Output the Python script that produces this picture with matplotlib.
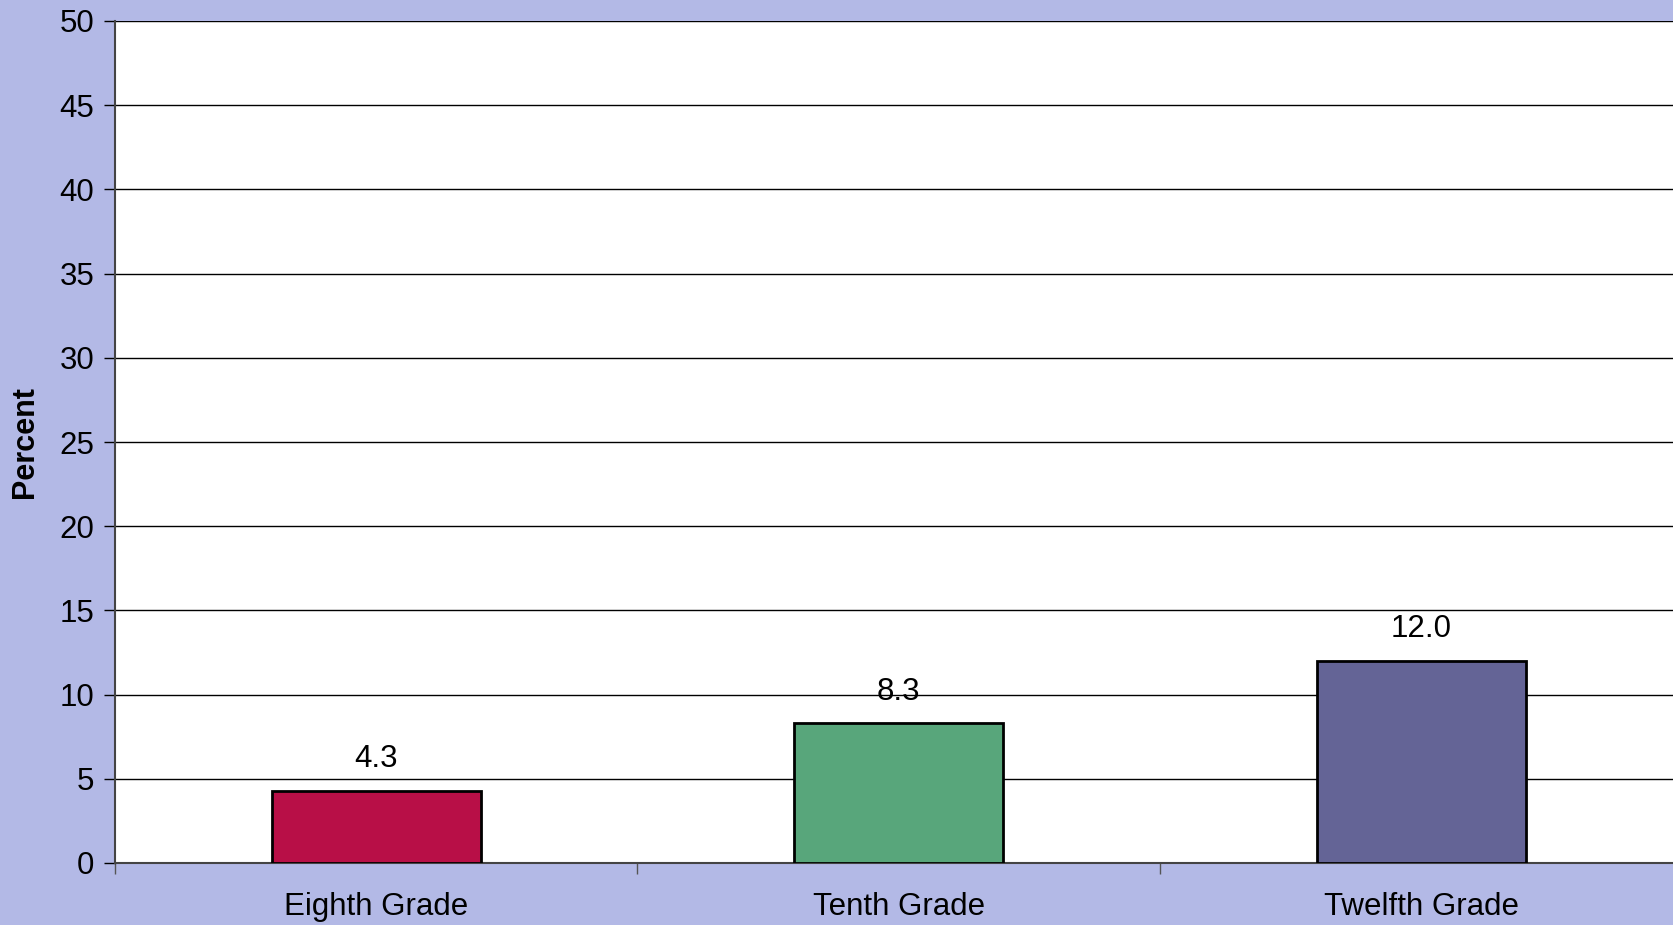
import matplotlib
matplotlib.use('Agg')
import matplotlib.pyplot as plt
import numpy as np

plt.rcParams['font.family'] = ['Liberation Sans', 'DejaVu Sans']

# chart data
grades = ['Eighth Grade', 'Tenth Grade', 'Twelfth Grade']
percent = [4.3, 8.3, 12.0]
bar_colors = ['#B80F47', '#58A67B', '#646496']
y_ticks = [0, 5, 10, 15, 20, 25, 30, 35, 40, 45, 50]

bg = '#B3B9E6'

fig = plt.figure(figsize=(16.74, 9.25), dpi=100, facecolor=bg)
# plot area runs slightly past the right edge, as in the original
ax = fig.add_axes([115 / 1674, 62 / 925, 1567.5 / 1674, 842 / 925])
ax.set_facecolor('white')

x = np.arange(len(grades))
bars = ax.bar(x, percent, width=0.4, color=bar_colors, edgecolor='black', linewidth=2, zorder=3)

for xi, v in zip(x, percent):
    ax.annotate(f'{v:.1f}', (xi, v), xytext=(0, 12), textcoords='offset points',
                ha='center', va='bottom', fontsize=22.5)

ax.set_xlim(-0.5, len(grades) - 0.5)
ax.set_ylim(0, 50)
ax.set_yticks(y_ticks)
ax.tick_params(axis='y', labelsize=22.5, length=8, width=1, direction='out', pad=7)

# ticks on the category boundaries, labels in the middle
ax.set_xticks(np.arange(len(grades) + 1) - 0.5)
ax.set_xticklabels([])
ax.set_xticks(x, minor=True)
ax.set_xticklabels(grades, minor=True, fontsize=22.5)
ax.tick_params(axis='x', which='major', length=8, width=1, color='#555555')
ax.tick_params(axis='x', which='minor', length=0, pad=21)

ax.grid(axis='y', color='black', linewidth=1, zorder=0)
ax.set_axisbelow(True)

for s in ['top', 'right']:
    ax.spines[s].set_visible(False)
ax.spines['left'].set_color('#444444')
ax.spines['left'].set_linewidth(1.5)
ax.spines['bottom'].set_color('#444444')
ax.spines['bottom'].set_linewidth(1.5)

ax.set_ylabel('Percent', fontsize=22, fontweight='bold', labelpad=14)

fig.savefig('out.png', dpi=100, facecolor=bg)
